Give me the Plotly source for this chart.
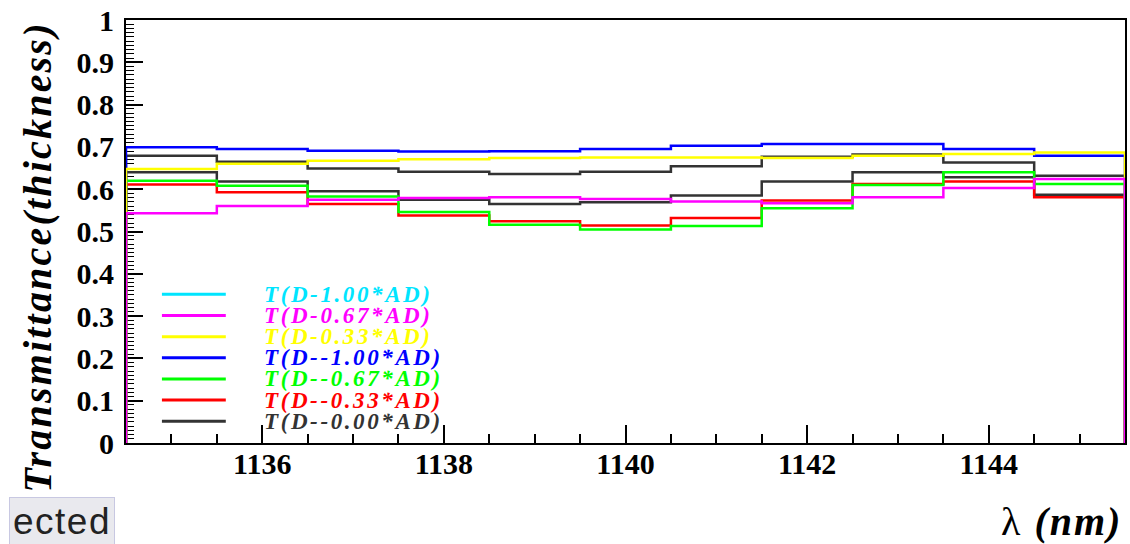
import plotly.graph_objects as go

# Wavelength bins (nm), 1 nm wide, centred on integers
wavelength = [1135, 1136, 1137, 1138, 1139, 1140, 1141, 1142, 1143, 1144, 1145]

# Transmittance per bin for each thickness variation
t_d_m100 = [0.699, 0.695, 0.691, 0.689, 0.690, 0.695, 0.703, 0.707, 0.707, 0.695, 0.679]
t_d_p033 = [0.648, 0.660, 0.667, 0.671, 0.674, 0.675, 0.675, 0.674, 0.679, 0.683, 0.687]
t_d_m000 = [0.679, 0.665, 0.649, 0.641, 0.636, 0.641, 0.654, 0.677, 0.682, 0.663, 0.632]
t_d_ref = [0.640, 0.618, 0.595, 0.575, 0.565, 0.569, 0.585, 0.618, 0.640, 0.628, 0.587]
t_d_m067 = [0.620, 0.608, 0.583, 0.546, 0.516, 0.505, 0.513, 0.555, 0.610, 0.640, 0.612]
t_d_m033 = [0.611, 0.593, 0.565, 0.538, 0.524, 0.514, 0.532, 0.573, 0.612, 0.618, 0.581]
t_d_p067 = [0.543, 0.560, 0.575, 0.579, 0.581, 0.577, 0.571, 0.567, 0.581, 0.603, 0.624]

# Legend entries (label, colour)
legend_labels = ["T(D-1.00*AD)", "T(D-0.67*AD)", "T(D-0.33*AD)", "T(D--1.00*AD)",
                 "T(D--0.67*AD)", "T(D--0.33*AD)", "T(D--0.00*AD)"]
legend_colors = ["#00e5ff", "#ff00ff", "#ffff00", "#0000ff", "#00ff00", "#ff0000", "#333333"]

# Drawing order: later histograms sit on top
series = [
    (t_d_ref, "#333333"),
    (t_d_m000, "#333333"),
    (t_d_m033, "#ff0000"),
    (t_d_m067, "#00ff00"),
    (t_d_m100, "#0000ff"),
    (t_d_p033, "#ffff00"),
    (t_d_p067, "#ff00ff"),
]

SERIF = "Liberation Serif, Times New Roman, serif"


def histogram_outline(centers, values):
    """Step outline of a histogram, closed down to zero at both ends."""
    edges = [c - 0.5 for c in centers] + [centers[-1] + 0.5]
    xs = [edges[0]] + edges[:-1] + [edges[-1], edges[-1]]
    ys = [0] + list(values) + [values[-1], 0]
    return xs, ys


fig = go.Figure()
for vals, col in series:
    xs, ys = histogram_outline(wavelength, vals)
    fig.add_trace(go.Scatter(x=xs, y=ys, mode="lines", line_shape="hv",
                             line=dict(color=col, width=2.5), showlegend=False,
                             hoverinfo="skip"))

# Plot-area geometry in pixels (used to place the in-frame legend)
W, H = 1130, 544
ML, MR, MT, MB = 126, 3, 19, 101
PW, PH = W - ML - MR, H - MT - MB


def px_x(p):
    return (p - ML) / PW


def px_y(p):
    return (H - MB - p) / PH


shapes = []
annotations = []
row0, row_step = 294, 21.2
for i, (lab, col) in enumerate(zip(legend_labels, legend_colors)):
    yy = px_y(row0 + i * row_step)
    shapes.append(dict(type="line", xref="paper", yref="paper",
                       x0=px_x(162), x1=px_x(226), y0=yy, y1=yy,
                       line=dict(color=col, width=3)))
    annotations.append(dict(
        xref="paper", yref="paper", x=px_x(262), y=yy, xanchor="left", yanchor="middle",
        text=f"<span style='letter-spacing:2.6px'>{lab}</span>", showarrow=False,
        font=dict(family=SERIF, size=23, color=col, weight="bold", style="italic")))

# Axis titles, aligned to the axis ends
annotations.append(dict(
    xref="paper", yref="paper", x=px_x(37), y=1.0, xanchor="center", yanchor="top",
    textangle=-90, showarrow=False,
    text="<span style='letter-spacing:2.2px'>Transmittance(thickness)</span>",
    font=dict(family=SERIF, size=40, color="black", weight="bold", style="italic")))
annotations.append(dict(
    xref="paper", yref="paper", x=px_x(1126), y=px_y(522), xanchor="right", yanchor="middle",
    showarrow=False,
    text="<span style='letter-spacing:2px'>λ <b><i>(nm)</i></b></span>",
    font=dict(family=SERIF, size=40, color="black")))

# Selection tab in the lower-left corner
annotations.append(dict(
    xref="paper", yref="paper", x=px_x(115), y=px_y(497), xanchor="right", yanchor="top",
    showarrow=False, text="<span style='letter-spacing:1.5px'>ected</span>",
    font=dict(family="Liberation Sans, Arial, sans-serif", size=37, color="#222222"),
    bgcolor="#e9e9ee", bordercolor="#c8c8e2", borderwidth=1, borderpad=3))

axis_common = dict(
    showline=True, linecolor="black", linewidth=2, mirror=True,
    showgrid=False, zeroline=False, ticks="inside", tickcolor="black", tickwidth=1.5,
    tickfont=dict(family=SERIF, size=30, color="black", weight="bold"),
    layer="below traces",
)

fig.update_layout(
    width=W, height=H, autosize=False,
    margin=dict(l=ML, r=MR, t=MT, b=MB, pad=0),
    paper_bgcolor="white", plot_bgcolor="white",
    xaxis=dict(range=[1134.5, 1145.5], tick0=1136, dtick=2, ticklen=18,
               ticklabelstandoff=-7,
               minor=dict(ticks="inside", ticklen=9, tick0=1135, dtick=0.5,
                          tickcolor="black", tickwidth=1.5, showgrid=False),
               **axis_common),
    yaxis=dict(range=[0, 1], tick0=0, dtick=0.1, ticklen=17,
               ticklabelstandoff=4,
               minor=dict(ticks="inside", ticklen=8, tick0=0, dtick=0.01,
                          tickcolor="black", tickwidth=1, showgrid=False),
               **axis_common),
    shapes=shapes,
    annotations=annotations,
)

fig.write_html("out.html")
